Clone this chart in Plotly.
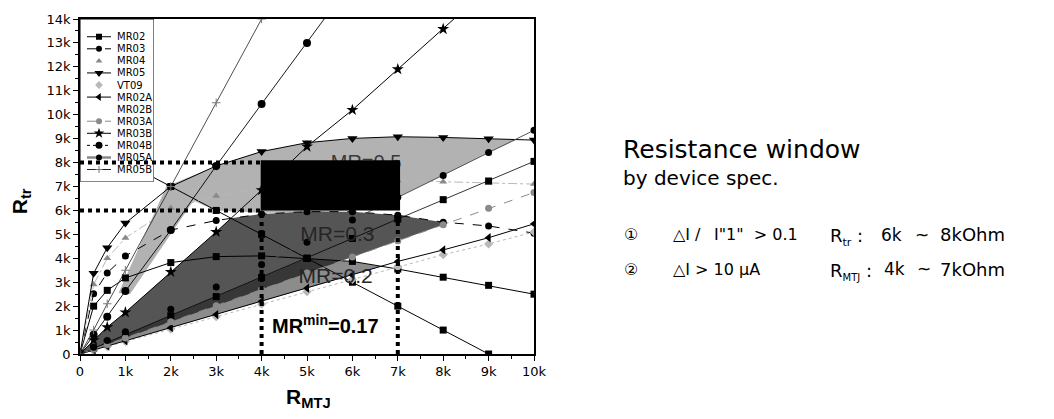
import plotly.graph_objects as go

# ---------------- data (R values in Ohm) ----------------
R_MTJ = [0, 300, 600, 1000, 2000, 3000, 4000, 5000, 6000, 7000, 8000, 9000, 10000]

MR02  = [0, 2000, 2660, 3180, 3820, 4070, 4100, 4000, 3870, 3550, 3210, 2870, 2500]
MR03  = [0, 2520, 3390, 4100, 5180, 5580, 5850, 5950, 5950, 5800, 5510, 5350, 5050]
MR04  = [0, 2900, 4000, 4850, 6100, 6600, 6950, 7150, 7250, 7250, 7200, 7150, 7100]
MR05  = [0, 3370, 4440, 5470, 7000, 7860, 8460, 8830, 9010, 9080, 9050, 9000, 8940]
VT09  = [0, 150, 310, 520, 1040, 1560, 2080, 2600, 3120, 3640, 4150, 4600, 5100]
MR02A = [0, 165, 330, 550, 1100, 1650, 2200, 2750, 3300, 3870, 4350, 4860, 5440]
MR02B = [0, 240, 480, 800, 1600, 2400, 3200, 4000, 4830, 5640, 6450, 7230, 8050]
MR03A = [0, 200, 400, 670, 1350, 2020, 2700, 3380, 4050, 4730, 5400, 6090, 6750]
MR03B = [0, 580, 1120, 1740, 3430, 5100, 6850, 8670, 10200, 11900, 13580, 15300]
MR04B = [0, 800, 1560, 2630, 5180, 7860, 10450, 13000, 15600]
MR05A = [0, 280, 560, 930, 1870, 2800, 3740, 4670, 5600, 6550, 7460, 8420, 9350]
MR05B = [0, 1000, 2100, 3500, 7000, 10500, 14000, 17500]

# current-limit line (dI > 10 uA)
LIMIT_X = [0, 2000, 3000, 4000, 5000, 6000, 7000, 8000, 9000]
LIMIT_Y = [9000, 7000, 6000, 5000, 4000, 3000, 2000, 1000, 0]

# shaded MR bands (outline points)
BAND05_X = [850, 1900, 3000, 4000, 5000, 6000, 7000, 8000, 9000, 9650,
            9000, 8000, 7000, 6000, 5000, 4000, 3000, 2500, 1100]
BAND05_Y = [2550, 7000, 7860, 8460, 8830, 9010, 9080, 9050, 9000, 8970,
            8420, 7460, 6550, 6000, 5900, 5900, 6000, 6400, 2500]
BAND03_X = [0, 300, 600, 1000, 2000, 3000, 3320, 4000, 5000, 6000, 7000, 8000, 8130,
            8000, 7000, 6000, 5000, 4000, 3000, 2000, 1000, 600, 300]
BAND03_Y = [0, 580, 1120, 1740, 3430, 5100, 5670, 5850, 5950, 5950, 5800, 5510, 5490,
            5400, 4730, 4050, 3380, 2700, 2020, 1350, 670, 400, 200]
BAND02_X = [0, 300, 600, 1000, 2000, 3000, 4000, 5000, 6000, 6640,
            6000, 5000, 4000, 3000, 2000, 1000, 600, 300]
BAND02_Y = [0, 240, 480, 800, 1600, 2400, 3200, 4000, 3870, 3660,
            3300, 2750, 2200, 1650, 1100, 550, 330, 165]

# spec window
WIN_RMTJ = [4000, 7000]
WIN_RTR = [6000, 8000]

X_TICKS = [0, 1000, 2000, 3000, 4000, 5000, 6000, 7000, 8000, 9000, 10000]
X_LABELS = ["0", "1k", "2k", "3k", "4k", "5k", "6k", "7k", "8k", "9k", "10k"]
Y_TICKS = [0, 1000, 2000, 3000, 4000, 5000, 6000, 7000, 8000, 9000, 10000,
           11000, 12000, 13000, 14000]
Y_LABELS = ["0", "1k", "2k", "3k", "4k", "5k", "6k", "7k", "8k", "9k", "10k",
            "11k", "12k", "13k", "14k"]

# ---------------- styles ----------------
FONT = "Liberation Sans, Arial, sans-serif"
WIDEFONT = "DejaVu Sans, sans-serif"
BLACK = "#000000"
GRAY = "#8a8a8a"
LGRAY = "#b8b8b8"

series = [
    # name, y, line color, dash, width, symbol, marker color, marker size, sample line, sample marker
    ("MR02", MR02, BLACK, "solid", 1, "square", BLACK, 7, True, True),
    ("MR03", MR03, BLACK, "dash", 1, "circle", BLACK, 7, True, True),
    ("MR04", MR04, LGRAY, "dashdot", 1, "triangle-up", GRAY, 7, False, True),
    ("MR05", MR05, BLACK, "solid", 1, "triangle-down", BLACK, 9, True, True),
    ("VT09", VT09, LGRAY, "dot", 1, "diamond", LGRAY, 7, False, True),
    ("MR02A", MR02A, BLACK, "solid", 1, "triangle-left", BLACK, 8, True, True),
    ("MR02B", MR02B, BLACK, "solid", 0.8, "square", BLACK, 7, False, False),
    ("MR03A", MR03A, GRAY, "dash", 1, "circle", GRAY, 7, True, True),
    ("MR03B", MR03B, BLACK, "solid", 1, "star", BLACK, 9, True, True),
    ("MR04B", MR04B, BLACK, "solid", 0.9, "circle", BLACK, 8, True, True),
    ("MR05A", MR05A, "#555555", "solid", 1, "circle", BLACK, 7, True, True),
    ("MR05B", MR05B, "#222222", "solid", 0.8, "cross-thin", "#777777", 6, True, True),
]
legend_dash = {"MR04B": "dot"}
legend_width = {"MR05A": 2.5}
legend_color = {"MR05A": GRAY}

fig = go.Figure()

# bands
fig.add_trace(go.Scatter(x=BAND05_X, y=BAND05_Y, fill="toself", fillcolor="#b2b2b2",
                         mode="none", hoverinfo="skip"))
fig.add_trace(go.Scatter(x=BAND03_X, y=BAND03_Y, fill="toself", fillcolor="rgba(25,25,25,0.74)",
                         mode="none", hoverinfo="skip"))
fig.add_trace(go.Scatter(x=BAND02_X, y=BAND02_Y, fill="toself", fillcolor="rgba(25,25,25,0.5)",
                         mode="none", hoverinfo="skip"))

# limit line
fig.add_trace(go.Scatter(x=LIMIT_X, y=LIMIT_Y, mode="lines+markers",
                         line=dict(color=BLACK, width=1),
                         marker=dict(symbol="square", size=7, color=BLACK)))

# data series
for name, ys, lc, dash, lw, sym, mc, ms, _, _ in series:
    mline = dict(width=1, color=mc) if sym == "cross-thin" else dict(width=0)
    fig.add_trace(go.Scatter(x=R_MTJ[:len(ys)], y=ys, mode="lines+markers", name=name,
                             line=dict(color=lc, width=lw, dash=dash),
                             marker=dict(symbol=sym, size=ms, color=mc, line=mline)))

# MR labels inside the plot (under the black window box)
fig.add_trace(go.Scatter(x=[6300], y=[7950], mode="text", text=["MR=0.5"],
                         textfont=dict(family=FONT, size=20, color="#3a3a3a")))
fig.add_trace(go.Scatter(x=[5670, 5630], y=[4940, 3170], mode="text",
                         text=["MR=0.3", "MR=0.2"],
                         textfont=dict(family=FONT, size=21, color="#262626")))

# ---------------- custom legend (small subplot over the top-left corner) ----------------
LEG_W, LEG_H = 74, 165
fig.add_trace(go.Scatter(x=[0, LEG_W, LEG_W, 0, 0], y=[0, 0, LEG_H, LEG_H, 0],
                         xaxis="x2", yaxis="y2", mode="lines", fill="toself",
                         fillcolor="white", line=dict(color=BLACK, width=1), hoverinfo="skip"))
annotations = []
for i, (name, ys, lc, dash, lw, sym, mc, ms, sl, sm) in enumerate(series):
    yy = 18 + 12.25 * i
    if sl:
        fig.add_trace(go.Scatter(x=[7, 31], y=[yy, yy], xaxis="x2", yaxis="y2", mode="lines",
                                 line=dict(color=legend_color.get(name, lc),
                                           width=legend_width.get(name, 1),
                                           dash=legend_dash.get(name, dash)),
                                 hoverinfo="skip"))
    if sm:
        mline = dict(width=1, color=mc) if sym == "cross-thin" else dict(width=0)
        fig.add_trace(go.Scatter(x=[19], y=[yy], xaxis="x2", yaxis="y2", mode="markers",
                                 marker=dict(symbol=sym, size=ms - 1, color=mc, line=mline),
                                 hoverinfo="skip"))
    annotations.append(dict(x=35, y=yy, xref="x2", yref="y2", text=name, showarrow=False,
                            xanchor="left", yanchor="middle",
                            font=dict(family=WIDEFONT, size=10, color=BLACK)))

# ---------------- shapes: window box & dotted guides ----------------
shapes = [
    dict(type="rect", xref="x", yref="y", x0=WIN_RMTJ[0] - 20, x1=WIN_RMTJ[1] + 50,
         y0=WIN_RTR[0], y1=WIN_RTR[1] + 100, fillcolor=BLACK, line=dict(width=0), layer="above"),
    dict(type="line", xref="x", yref="y", x0=0, x1=WIN_RMTJ[0], y0=WIN_RTR[1], y1=WIN_RTR[1],
         line=dict(color=BLACK, width=4, dash="dot"), layer="above"),
    dict(type="line", xref="x", yref="y", x0=0, x1=WIN_RMTJ[0], y0=WIN_RTR[0], y1=WIN_RTR[0],
         line=dict(color=BLACK, width=4, dash="dot"), layer="above"),
    dict(type="line", xref="x", yref="y", x0=WIN_RMTJ[0], x1=WIN_RMTJ[0], y0=0, y1=WIN_RTR[0],
         line=dict(color=BLACK, width=4, dash="dot"), layer="above"),
    dict(type="line", xref="x", yref="y", x0=WIN_RMTJ[1], x1=WIN_RMTJ[1], y0=0, y1=WIN_RTR[0],
         line=dict(color=BLACK, width=4, dash="dot"), layer="above"),
]

# ---------------- text annotations ----------------
L, R_, T, B, W, H = 80, 520, 14, 65, 1054, 419
PW, PH = W - L - R_, H - T - B


def px(xp):
    return (xp - L) / PW


def py(yp):
    return (H - B - yp) / PH


def note(xp, yp, text, size, xanchor="left", angle=0, family=FONT):
    return dict(x=px(xp), y=py(yp), xref="paper", yref="paper", text=text,
                xanchor=xanchor, yanchor="middle", textangle=angle, showarrow=False,
                font=dict(family=family, size=size, color=BLACK))


annotations += [
    dict(x=5400, y=1230, xref="x", yref="y", text="<b>MR<sup>min</sup>=0.17</b>",
         xanchor="center", yanchor="middle",
         showarrow=False, font=dict(family=FONT, size=20, color=BLACK)),
    note(21, 199, "<b>R<sub>tr</sub></b>", 21, xanchor="center", angle=-90),
    note(308, 399, "<b>R<sub>MTJ</sub></b>", 21, xanchor="center"),
    note(621, 146, "Resistance window", 25, family=WIDEFONT),
    note(621, 175, "by device spec.", 20, family=WIDEFONT),
    # row 1
    note(622, 233, "①", 16, family=WIDEFONT),
    note(671, 233, "△I /", 16, family=WIDEFONT),
    note(712, 233, "I\"1\" \u00a0> 0.1", 16, family=WIDEFONT),
    note(828, 235, "R<sub><span style='font-size:11px'>tr</span></sub> :", 18, family=WIDEFONT),
    note(879, 233, "6k", 17, family=WIDEFONT),
    note(913, 233, "~", 17, family=WIDEFONT),
    note(938, 233, "8kOhm", 18, family=WIDEFONT),
    # row 2
    note(622, 268, "②", 16, family=WIDEFONT),
    note(671, 268, "△I > 10 μA", 16, family=WIDEFONT),
    note(828, 270, "R<sub><span style='font-size:10px'>MTJ</span></sub> :", 18, family=WIDEFONT),
    note(882, 268, "4k", 17, family=WIDEFONT),
    note(915, 268, "~", 17, family=WIDEFONT),
    note(938, 268, "7kOhm", 18, family=WIDEFONT),
]

axis_common = dict(showline=True, linecolor=BLACK, linewidth=1.5, mirror=True,
                   showgrid=False, zeroline=False, ticks="outside", ticklen=5,
                   tickwidth=1, tickcolor=BLACK,
                   tickfont=dict(family=WIDEFONT, size=13, color=BLACK))

fig.update_layout(
    width=W, height=H, margin=dict(l=L, r=R_, t=T, b=B, pad=0),
    paper_bgcolor="white", plot_bgcolor="white", showlegend=False,
    xaxis=dict(range=[0, 10000], tickvals=X_TICKS, ticktext=X_LABELS,
               minor=dict(ticks="outside", ticklen=3, dtick=500, tickcolor=BLACK),
               **axis_common),
    yaxis=dict(range=[0, 14000], tickvals=Y_TICKS, ticktext=Y_LABELS,
               minor=dict(ticks="outside", ticklen=3, dtick=500, tickcolor=BLACK),
               **axis_common),
    xaxis2=dict(domain=[0, LEG_W / PW], range=[0, LEG_W], visible=False, anchor="y2"),
    yaxis2=dict(domain=[1 - LEG_H / PH, 1], range=[LEG_H, 0], visible=False, anchor="x2"),
    shapes=shapes, annotations=annotations,
)

fig.write_html("out.html")
